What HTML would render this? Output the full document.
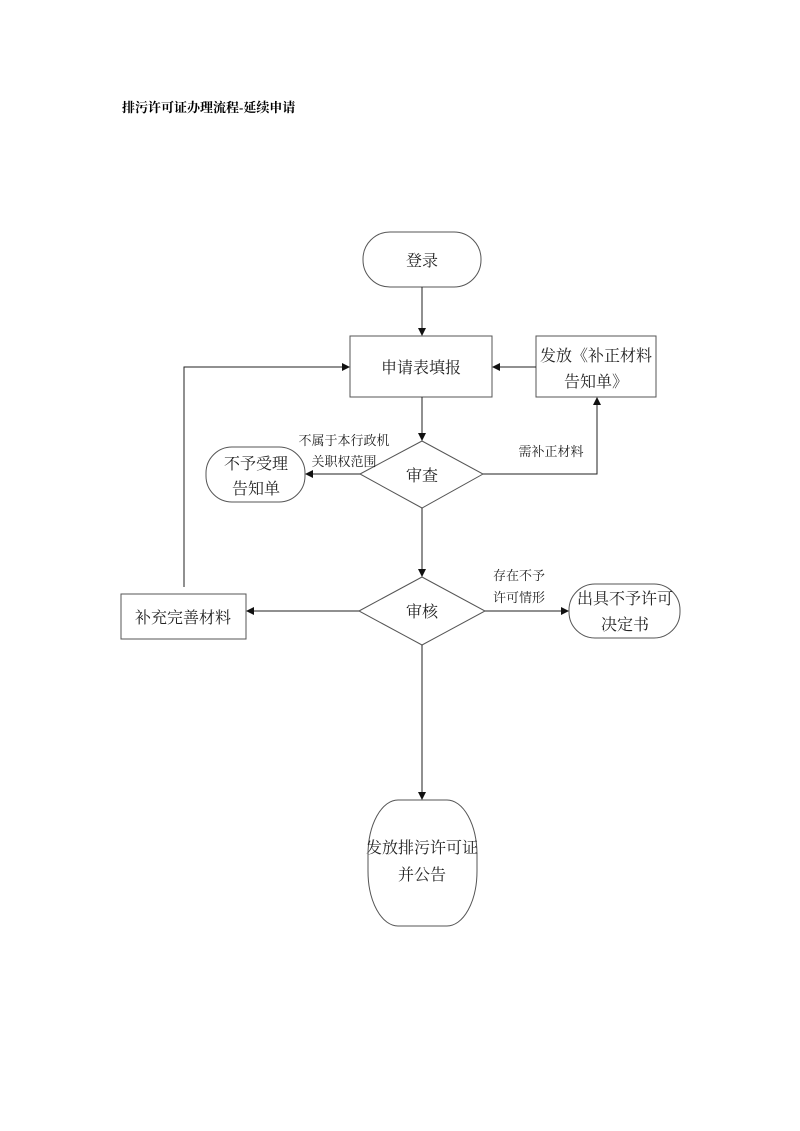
<!DOCTYPE html>
<html><head><meta charset="utf-8"><style>
body{margin:0;background:#fff;}
svg{display:block}
text{font-family:"Liberation Serif","Noto Serif CJK SC","Noto Sans CJK SC",serif;fill:#222}
</style></head><body>
<svg width="800" height="1131" viewBox="0 0 800 1131" xmlns="http://www.w3.org/2000/svg">
<defs><marker id="a" markerWidth="8" markerHeight="8" refX="7" refY="4" orient="auto" markerUnits="userSpaceOnUse"><path d="M0,0 L8,4 L0,8 z" fill="#111"/></marker></defs>
<text x="122" y="112" font-size="13" font-weight="bold" style="fill:#000">排污许可证办理流程-延续申请</text>
<g stroke="#555" stroke-width="1" fill="none">
<rect x="363" y="232" width="118" height="55" rx="27"/>
<rect x="350" y="336" width="142" height="61"/>
<rect x="536" y="336" width="120" height="61"/>
<polygon points="360,474 422,441 483,474 422,508"/>
<rect x="206" y="447" width="99" height="55" rx="26"/>
<polygon points="359,611 422,577 485,611 422,645"/>
<rect x="121" y="594" width="125" height="45"/>
<rect x="569" y="584" width="111" height="54" rx="26"/>
<rect x="368" y="800" width="109" height="126" rx="30" ry="55"/>
</g>
<g stroke="#222" stroke-width="1" fill="none">
<line x1="422" y1="287" x2="422" y2="335" marker-end="url(#a)"/>
<line x1="536" y1="367" x2="493" y2="367" marker-end="url(#a)"/>
<polyline points="184,587 184,367 349,367" marker-end="url(#a)"/>
<line x1="422" y1="397" x2="422" y2="440" marker-end="url(#a)"/>
<line x1="360" y1="474" x2="306" y2="474" marker-end="url(#a)"/>
<polyline points="483,474 597,474 597,398" marker-end="url(#a)"/>
<line x1="422" y1="508" x2="422" y2="576" marker-end="url(#a)"/>
<line x1="359" y1="611" x2="247" y2="611" marker-end="url(#a)"/>
<line x1="485" y1="611" x2="568" y2="611" marker-end="url(#a)"/>
<line x1="422" y1="645" x2="422" y2="799" marker-end="url(#a)"/>
</g>
<g font-size="16" text-anchor="middle">
<text x="422" y="266">登录</text>
<text x="421" y="373">申请表填报</text>
<text x="596" y="361">发放《补正材料</text>
<text x="596" y="387">告知单》</text>
<text x="422" y="481">审查</text>
<text x="256" y="469">不予受理</text>
<text x="256" y="494">告知单</text>
<text x="422" y="617">审核</text>
<text x="183" y="623">补充完善材料</text>
<text x="625" y="604">出具不予许可</text>
<text x="625" y="630">决定书</text>
<text x="422" y="853">发放排污许可证</text>
<text x="422" y="880">并公告</text>
</g>
<g font-size="13" text-anchor="middle">
<text x="344" y="445">不属于本行政机</text>
<text x="344" y="466">关职权范围</text>
<text x="551" y="456">需补正材料</text>
<text x="519" y="580">存在不予</text>
<text x="519" y="602">许可情形</text>
</g>
</svg>
</body></html>
